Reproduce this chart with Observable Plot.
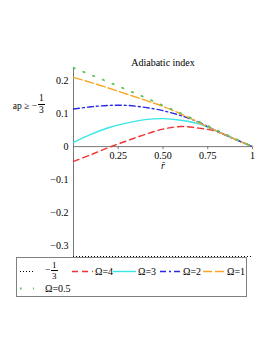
<!DOCTYPE html>
<html>
<head>
<meta charset="utf-8">
<script src="https://cdn.jsdelivr.net/npm/d3@7"></script>
<script src="https://cdn.jsdelivr.net/npm/@observablehq/plot@0.6"></script>
<style>
  html, body { margin: 0; padding: 0; background: white; }
  #wrap { position: relative; width: 274px; height: 355px; font-family: 'Liberation Serif', 'Times New Roman', serif; color: black; }
  .abs { position: absolute; white-space: nowrap; line-height: 1; }
  .frac { position: absolute; display: flex; flex-direction: column; align-items: center; line-height: 1; }
  .frac .num { border-bottom: 0.8px solid black; padding: 0 1px 0 1px; }
  .frac .den { padding-top: 1px; }
</style>
</head>
<body>
<div id="wrap"></div>
<script>
// ---- data ----
const xs      = [0, 0.1, 0.2, 0.3, 0.4, 0.5, 0.6, 0.7, 0.8, 0.9, 1];
const omega4  = [-0.045, -0.024, -0.002, 0.018, 0.037, 0.053, 0.061, 0.056, 0.046, 0.023, 0];
const omega3  = [0.013, 0.038, 0.058, 0.072, 0.082, 0.085, 0.080, 0.069, 0.047, 0.023, 0];
const omega2  = [0.114, 0.121, 0.125, 0.125, 0.119, 0.109, 0.094, 0.074, 0.047, 0.023, 0];
const omega1  = [0.210, 0.194, 0.177, 0.159, 0.141, 0.122, 0.099, 0.073, 0.047, 0.023, 0];
const omega05 = [0.239, 0.217, 0.195, 0.172, 0.149, 0.125, 0.101, 0.076, 0.050, 0.025, 0];
const lowerBound = [-1/3];
const xTicks = [0.25, 0.5, 0.75, 1];
const xTickLabels = ["0.25", "0.50", "0.75", "1"];
const yTicks = [-0.3, -0.2, -0.1, 0, 0.1, 0.2];
const yTickLabels = ["\u22120.3", "\u22120.2", "\u22120.1", "0", "0.1", "0.2"];
const seriesNames = ["\u03A9=4", "\u03A9=3", "\u03A9=2", "\u03A9=1", "\u03A9=0.5"];
const seriesValues = [omega4, omega3, omega2, omega1, omega05];
const seriesColors = ["#f03232", "#3ae6e6", "#2a2ae6", "#f7a628", "#5cc45c"];
const seriesDash = ["6 4", null, "6 3 2 3", "9 3", "1.5 9"];

const series = seriesNames.map((name, k) => ({
  name,
  color: seriesColors[k],
  dash: seriesDash[k],
  points: xs.map((x, i) => ({x, y: seriesValues[k][i]}))
}));

const fontFamily = "'Liberation Serif', 'Times New Roman', serif";

const lineMarks = series.map(s => Plot.line(s.points, {
  x: "x", y: "y",
  stroke: s.color,
  strokeWidth: s.name === "\u03A9=0.5" ? 1.8 : 1.4,
  strokeDasharray: s.dash,
  curve: "catmull-rom"
}));

const chart = Plot.plot({
  width: 274,
  height: 258,
  marginLeft: 73,
  marginRight: 22,
  marginTop: 68,
  marginBottom: 2,
  x: {domain: [0, 1], axis: null},
  y: {domain: [-1/3, 0.237], axis: null},
  style: {fontFamily, fontSize: "10px", color: "black", background: "white", overflow: "visible"},
  marks: [
    Plot.ruleX([0], {stroke: "#777", strokeWidth: 1}),
    Plot.ruleY([0], {stroke: "#777", strokeWidth: 1}),
    Plot.ruleX(xTicks, {x: d => d, y1: 0, y2: 0, insetBottom: -3, stroke: "#777"}),
    Plot.text(yTicks, {x: 0, y: d => d, text: (d, i) => yTickLabels[i], textAnchor: "end", dx: -5, fill: "black", fontSize: 10, fontFamily}),
    Plot.text(xTicks, {x: d => d, y: 0, text: (d, i) => xTickLabels[i], dy: 9, fill: "black", fontSize: 10, fontFamily}),
    Plot.text(["r\u0304"], {frameAnchor: "middle", dy: 3, fontStyle: "italic", fill: "black", fontSize: 10, fontFamily}),
    Plot.text(["Adiabatic index"], {frameAnchor: "top", lineAnchor: "middle", dy: -6, fill: "black", fontSize: 10, fontFamily}),
    Plot.ruleY(lowerBound, {stroke: "black", strokeDasharray: "1 2", strokeWidth: 1.2}),
    ...lineMarks
  ]
});
chart.style.position = "absolute";
chart.style.left = "0px";
chart.style.top = "0px";

const wrap = document.getElementById("wrap");
wrap.appendChild(chart);

// y-axis label: ap ≥ −1/3
const yl = document.createElement("div");
yl.innerHTML = `
  <div class="abs" style="right:237px; top:102px; font-size:9.5px;">ap &#8805; &#8722;</div>
  <div class="frac" style="left:38px; top:94px; font-size:9.5px;"><span class="num">1</span><span class="den">3</span></div>`;
wrap.appendChild(yl);

// legend
const legendItems = [
  {label: null, color: "black", dash: "1 2", width: 1.2, x: 20, len: 14, row: 0},
  {label: "\u03A9=4", color: seriesColors[0], dash: seriesDash[0], width: 1.4, x: 72, len: 21, row: 0},
  {label: "\u03A9=3", color: seriesColors[1], dash: null, width: 1.4, x: 113, len: 23, row: 0},
  {label: "\u03A9=2", color: seriesColors[2], dash: seriesDash[2], width: 1.4, x: 160, len: 21, row: 0},
  {label: "\u03A9=1", color: seriesColors[3], dash: seriesDash[3], width: 1.4, x: 203, len: 22, row: 0},
  {label: "\u03A9=0.5", color: seriesColors[4], dash: "1.6 11.4", width: 1.8, x: 20, len: 14, row: 1}
];
const box = document.createElement("div");
box.style.cssText = "position:absolute; left:16px; top:257px; width:231px; height:40px; box-sizing:border-box; border:1.5px solid #808080;";
wrap.appendChild(box);

const rowY = [271.5, 288.5];
const svgNS = "http://www.w3.org/2000/svg";
const lsvg = document.createElementNS(svgNS, "svg");
lsvg.setAttribute("width", 274);
lsvg.setAttribute("height", 355);
lsvg.style.cssText = "position:absolute; left:0; top:0;";
legendItems.forEach(it => {
  const l = document.createElementNS(svgNS, "line");
  l.setAttribute("x1", it.x);
  l.setAttribute("x2", it.x + it.len);
  l.setAttribute("y1", rowY[it.row]);
  l.setAttribute("y2", rowY[it.row]);
  l.setAttribute("stroke", it.color);
  l.setAttribute("stroke-width", it.width);
  if (it.dash) l.setAttribute("stroke-dasharray", it.dash);
  lsvg.appendChild(l);
  if (it.label) {
    const t = document.createElementNS(svgNS, "text");
    t.setAttribute("x", it.row === 1 ? 45 : it.x + it.len + 2);
    t.setAttribute("y", rowY[it.row]);
    t.setAttribute("dy", "0.35em");
    t.setAttribute("font-family", fontFamily);
    t.setAttribute("font-size", "10");
    t.textContent = it.label;
    lsvg.appendChild(t);
  }
});
wrap.appendChild(lsvg);

const lf = document.createElement("div");
lf.innerHTML = `
  <div class="abs" style="left:45px; top:266px; font-size:9.5px;">&#8722;</div>
  <div class="frac" style="left:51px; top:261px; font-size:9px;"><span class="num">1</span><span class="den">3</span></div>`;
wrap.appendChild(lf);
</script>
</body>
</html>
